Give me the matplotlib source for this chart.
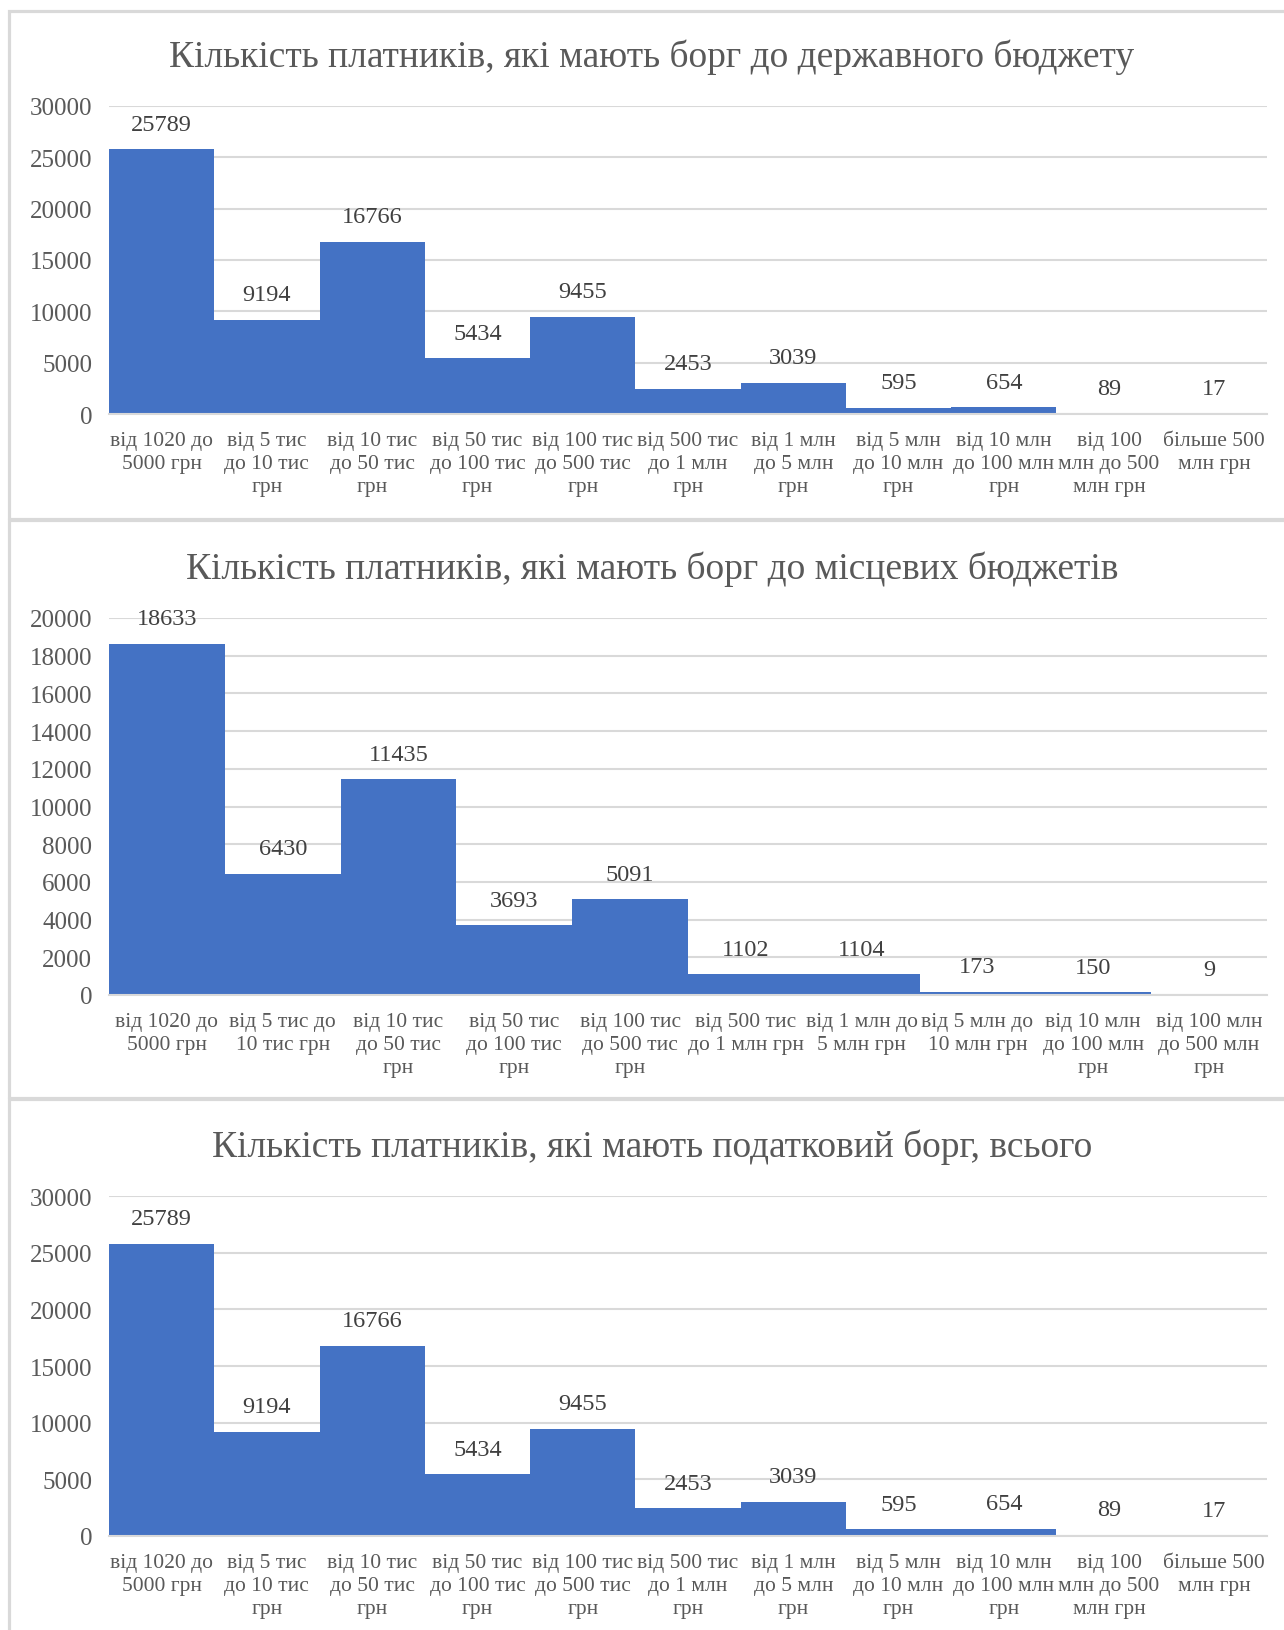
# Кількість платників з податковим боргом, три діаграми

import matplotlib.pyplot as plt
from matplotlib.patches import Rectangle

W, H = 1284, 1631

# Державний бюджет
labels_state = [
    "від 1020 до\n5000 грн", "від 5 тис\nдо 10 тис\nгрн", "від 10 тис\nдо 50 тис\nгрн",
    "від 50 тис\nдо 100 тис\nгрн", "від 100 тис\nдо 500 тис\nгрн", "від 500 тис\nдо 1 млн\nгрн",
    "від 1 млн\nдо 5 млн\nгрн", "від 5 млн\nдо 10 млн\nгрн", "від 10 млн\nдо 100 млн\nгрн",
    "від 100\nмлн до 500\nмлн грн", "більше 500\nмлн грн",
]
values_state = [25789, 9194, 16766, 5434, 9455, 2453, 3039, 595, 654, 89, 17]

# Місцеві бюджети
labels_local = [
    "від 1020 до\n5000 грн", "від 5 тис до\n10 тис грн", "від 10 тис\nдо 50 тис\nгрн",
    "від 50 тис\nдо 100 тис\nгрн", "від 100 тис\nдо 500 тис\nгрн", "від 500 тис\nдо 1 млн грн",
    "від 1 млн до\n5 млн грн", "від 5 млн до\n10 млн грн", "від 10 млн\nдо 100 млн\nгрн",
    "від 100 млн\nдо 500 млн\nгрн",
]
values_local = [18633, 6430, 11435, 3693, 5091, 1102, 1104, 173, 150, 9]

# Всього
labels_total = labels_state
values_total = [25789, 9194, 16766, 5434, 9455, 2453, 3039, 595, 654, 89, 17]

titles = [
    "Кількість платників, які мають борг до державного бюджету",
    "Кількість платників, які мають борг до місцевих бюджетів",
    "Кількість платників, які мають податковий борг, всього",
]

plt.rcParams['font.family'] = ['Liberation Serif', 'DejaVu Serif']

BAR = '#4472C4'
GRID = '#D9D9D9'
TXT = '#595959'


def px_rect(left, top, right, bottom):
    # перевести пікселі у частки фігури
    return [left / W, 1 - bottom / H, (right - left) / W, (bottom - top) / H]


fig = plt.figure(figsize=(W / 100, H / 100), dpi=100)

# рамки панелей
for top, bottom in [(12, 520), (521, 1099), (1100, 1700)]:
    fig.add_artist(Rectangle((9 / W, 1 - bottom / H), 2, (bottom - top) / H,
                             transform=fig.transFigure, fill=False,
                             edgecolor=GRID, linewidth=2.3))

panels = [
    (labels_state, values_state, 30000, 5000, 107, 415, 57),
    (labels_local, values_local, 20000, 2000, 619, 996, 569),
    (labels_total, values_total, 30000, 5000, 1197, 1537, 1147),
]

for (labels, values, ymax, step, top, bottom, ty), title in zip(panels, titles):
    ax = fig.add_axes(px_rect(109, top, 1267, bottom))
    x = list(range(len(values)))
    ax.bar(x, values, width=1.0, color=BAR, zorder=2)
    ax.set_xlim(-0.5, len(values) - 0.5)
    ax.set_ylim(0, ymax)
    ax.set_yticks(range(0, ymax + 1, step))
    ax.grid(axis='y', color=GRID, linewidth=1.5, zorder=0)
    for s in ['top', 'right', 'left']:
        ax.spines[s].set_visible(False)
    ax.spines['bottom'].set_color(GRID)
    ax.spines['bottom'].set_linewidth(1.5)
    ax.set_xticks(x)
    ax.set_xticklabels(labels, fontsize=15.5, color=TXT, linespacing=1.3)
    ax.tick_params(axis='x', length=0, pad=12)
    ax.tick_params(axis='y', length=0, pad=12, labelsize=18, labelcolor=TXT)

    for xi, v in zip(x, values):
        ax.annotate(str(v), (xi, v), textcoords='offset points', xytext=(0, 18),
                    ha='center', va='center', fontsize=17.5, color='#404040')

    fig.text(652 / W, 1 - ty / H, title, ha='center', va='center',
             fontsize=27, color=TXT)

fig.savefig('out.png', dpi=100, facecolor='white')
